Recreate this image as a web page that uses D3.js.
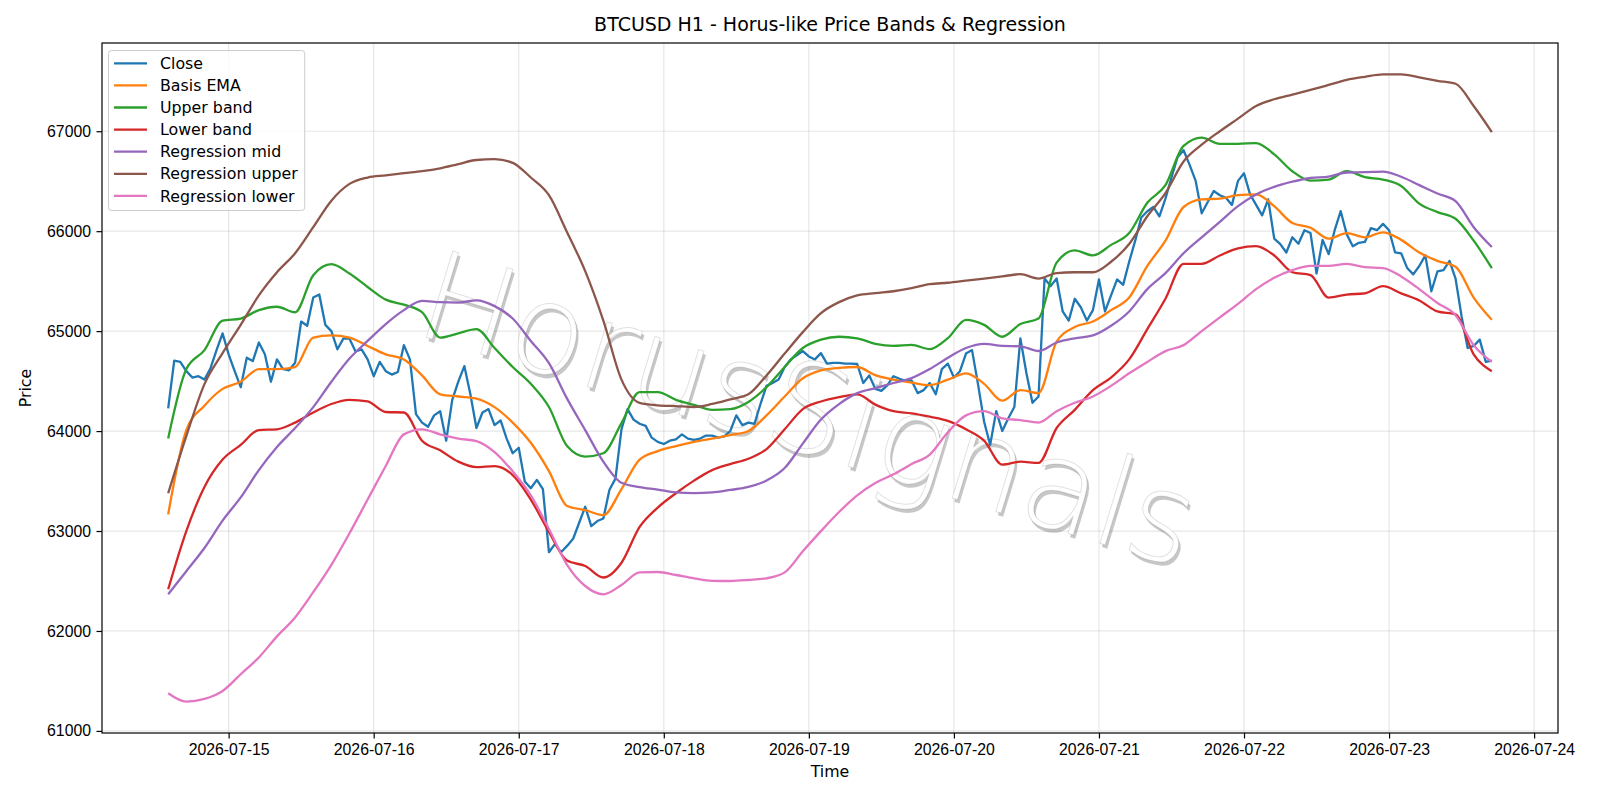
<!DOCTYPE html>
<html>
<head>
<meta charset="utf-8">
<title>BTCUSD H1 - Horus-like Price Bands & Regression</title>
<script src="https://d3js.org/d3.v7.min.js"></script>
<style>
  body { margin: 0; background: #fff; }
  svg { font-family: "DejaVu Sans", sans-serif; }
  .series { fill: none; stroke-width: 2.3; stroke-linejoin: round; }
  .grid line { stroke: #b0b0b0; stroke-opacity: 0.3; stroke-width: 1.2; }
  .axis text { font-size: 15.8px; fill: #000; }
  .axis line { stroke: #000; stroke-width: 1.2; }
  .axis path { display: none; }
</style>
</head>
<body>
<svg width="1600" height="800"></svg>
<script>
// hourly close, first bar 2026-07-14 14:00
var closePrices = [
  64228, 64704, 64692, 64600, 64536, 64549, 64515, 64629, 64810, 64978, 64768, 64599,
  64439, 64734, 64700, 64886, 64768, 64494, 64717, 64620, 64608, 64683, 65096, 65054,
  65336, 65366, 65063, 65000, 64818, 64928, 64924, 64797, 64818, 64717, 64549, 64692,
  64599, 64565, 64591, 64860, 64717, 64170, 64085, 64043, 64157, 64199, 63904, 64313,
  64494, 64650, 64368, 64031, 64186, 64220, 64060, 64106, 63925, 63778, 63833, 63496,
  63428, 63512, 63420, 62788, 62872, 62788, 62851, 62923, 63083, 63243, 63049, 63100,
  63125, 63411, 63524, 64018, 64220, 64115, 64073, 64052, 63934, 63892, 63871, 63904,
  63917, 63967, 63925, 63913, 63925, 63955, 63955, 63934, 63946, 64001, 64157, 64060,
  64085, 64073, 64271, 64452, 64481, 64515, 64641, 64717, 64759, 64801, 64747, 64717,
  64780, 64675, 64683, 64683, 64675, 64675, 64671, 64481, 64557, 64422, 64403, 64460,
  64549, 64523, 64503, 64507, 64380, 64410, 64481, 64368, 64620, 64675, 64536, 64599,
  64776, 64810, 64465, 64094, 63862, 64199, 64001, 64128, 64241, 64928, 64578, 64283,
  64346, 65526, 65450, 65526, 65197, 65105, 65324, 65239, 65105, 65210, 65517, 65197,
  65357, 65517, 65463, 65694, 65905, 66137, 66200, 66242, 66149, 66326, 66537, 66740,
  66810, 66663, 66503, 66179, 66292, 66402, 66360, 66335, 66263, 66503, 66579, 66368,
  66263, 66158, 66318, 65926, 65871, 65787, 65939, 65875, 66010, 65981, 65577, 65913,
  65770, 66010, 66200, 65968, 65850, 65884, 65892, 66031, 66010, 66073, 66010, 65787,
  65779, 65631, 65568, 65652, 65758, 65399, 65597, 65610, 65703, 65526, 65147, 64831,
  64852, 64915, 64692, 64704
];

// band and regression values read every 3 hours (hour 0, 3, ... 219)
var basisEma = [
  63167, 64010, 64254, 64422, 64494, 64620, 64620, 64641,
  64936, 64957, 64936, 64852, 64768, 64717, 64557, 64368,
  64346, 64325, 64240, 64085, 63883, 63600, 63251, 63210,
  63159, 63420, 63715, 63800, 63850, 63892, 63925, 63960,
  64001, 64157, 64346, 64528, 64608, 64633, 64641, 64560,
  64515, 64485, 64460, 64515, 64578, 64473, 64304, 64410,
  64380, 64894, 65041, 65096, 65210, 65336, 65652, 65905,
  66242, 66318, 66326, 66360, 66368, 66250, 66082, 66035,
  65926, 65981, 65939, 65989, 65913, 65787, 65703, 65644,
  65336, 65113
];

var upperBand = [
  63925, 64620, 64810, 65105, 65126, 65210, 65244, 65189,
  65560, 65670, 65576, 65442, 65315, 65265, 65189, 64936,
  64978, 65020, 64831, 64641, 64473, 64241, 63850, 63745,
  63778, 64080, 64389, 64390, 64313, 64262, 64212, 64220,
  64292, 64440, 64641, 64831, 64915, 64944, 64928, 64873,
  64852, 64862, 64820, 64930, 65113, 65063, 64944, 65071,
  65126, 65686, 65808, 65757, 65863, 65981, 66284, 66461,
  66853, 66937, 66874, 66874, 66882, 66768, 66600, 66505,
  66516, 66600, 66540, 66516, 66452, 66276, 66191, 66124,
  65905, 65631
];

var lowerBand = [
  62417, 62999, 63441, 63715, 63862, 64010, 64018, 64085,
  64186, 64271, 64313, 64296, 64191, 64186, 63904, 63807,
  63694, 63639, 63650, 63560, 63315, 62990, 62704, 62650,
  62535, 62683, 63041, 63235, 63378, 63504, 63609, 63670,
  63723, 63820, 64018, 64220, 64296, 64340, 64368, 64265,
  64199, 64178, 64144, 64102, 64018, 63904, 63664, 63694,
  63681, 64031, 64212, 64410, 64536, 64717, 65020, 65324,
  65673, 65673, 65757, 65829, 65850, 65757, 65589, 65560,
  65336, 65366, 65378, 65450, 65378, 65307, 65197, 65168,
  64768, 64599
];

var regMid = [
  62367, 62598, 62830, 63104, 63336, 63610, 63841, 64030,
  64240, 64494, 64726, 64902, 65071, 65210, 65303, 65290,
  65286, 65307, 65250, 65126, 64902, 64680, 64325, 64010,
  63694, 63483, 63440, 63415, 63386, 63380, 63386, 63411,
  63441, 63505, 63630, 63875, 64115, 64270, 64380, 64430,
  64481, 64530, 64620, 64734, 64831, 64873, 64852, 64848,
  64801, 64886, 64928, 64957, 65054, 65197, 65420, 65580,
  65779, 65939, 66094, 66250, 66368, 66444, 66495, 66532,
  66545, 66587, 66590, 66596, 66545, 66461, 66377, 66300,
  66040, 65842
];

var regUpper = [
  63378, 63950, 64470, 64780, 65063, 65357, 65589, 65779,
  66040, 66305, 66473, 66537, 66558, 66580, 66600, 66629,
  66671, 66712, 66720, 66684, 66537, 66360, 65989, 65600,
  65105, 64515, 64283, 64258, 64250, 64241, 64271, 64318,
  64368, 64557, 64776, 64990, 65180, 65290, 65357, 65380,
  65399, 65430, 65470, 65484, 65505, 65526, 65547, 65570,
  65526, 65581, 65589, 65589, 65694, 65871, 66149, 66380,
  66697, 66865, 67000, 67126, 67253, 67320, 67366, 67413,
  67463, 67514, 67545, 67569, 67569, 67539, 67505, 67475,
  67253, 66992
];

var regLower = [
  61377, 61293, 61320, 61400, 61567, 61735, 61946, 62135,
  62388, 62662, 62978, 63315, 63651, 63967, 64018, 63967,
  63925, 63900, 63790, 63597, 63357, 63020, 62662, 62450,
  62367, 62460, 62586, 62590, 62560, 62527, 62502, 62500,
  62510, 62527, 62586, 62797, 62999, 63190, 63357, 63480,
  63567, 63670, 63765, 63988, 64157, 64200, 64128, 64110,
  64085, 64199, 64283, 64346, 64452, 64578, 64692, 64800,
  64860, 65000, 65138, 65273, 65420, 65534, 65610, 65652,
  65652, 65673, 65640, 65631, 65547, 65420, 65281, 65160,
  64860, 64692
];

var yTicks = [61000, 62000, 63000, 64000, 65000, 66000, 67000];
var xTickDays = ["2026-07-15", "2026-07-16", "2026-07-17", "2026-07-18", "2026-07-19",
                 "2026-07-20", "2026-07-21", "2026-07-22", "2026-07-23", "2026-07-24"];

var margin = {top: 43, right: 42, bottom: 67, left: 102},
    width = 1600 - margin.left - margin.right,
    height = 800 - margin.top - margin.bottom;

var hourMs = 3600 * 1000;
var startTime = Date.UTC(2026, 6, 14, 14);
function timeAt(h) { return new Date(startTime + h * hourMs); }

var bandHours = d3.range(0, 220, 3);

var series = [
  {name: "Close",             color: "#1f77b4", values: closePrices, hours: closePrices.map(function(d, i) { return i; })},
  {name: "Basis EMA",         color: "#ff7f0e", values: basisEma,  hours: bandHours},
  {name: "Upper band",        color: "#2ca02c", values: upperBand, hours: bandHours},
  {name: "Lower band",        color: "#d62728", values: lowerBand, hours: bandHours},
  {name: "Regression mid",    color: "#9467bd", values: regMid,    hours: bandHours},
  {name: "Regression upper",  color: "#8c564b", values: regUpper,  hours: bandHours},
  {name: "Regression lower",  color: "#e377c2", values: regLower,  hours: bandHours}
];

// matplotlib-like 5% margins
var t0 = timeAt(0), t1 = timeAt(closePrices.length - 1);
var tPad = (t1 - t0) * 0.05;
var x = d3.scaleUtc()
    .domain([new Date(+t0 - tPad), new Date(+t1 + tPad)])
    .range([0, width]);

var allVals = d3.merge(series.map(function(s) { return s.values; }));
var vMin = d3.min(allVals), vMax = d3.max(allVals), vPad = (vMax - vMin) * 0.05;
var y = d3.scaleLinear()
    .domain([vMin - vPad, vMax + vPad])
    .range([height, 0]);

var svg = d3.select("svg");

svg.append("text")
    .attr("x", margin.left + width / 2)
    .attr("y", 31)
    .attr("text-anchor", "middle")
    .style("font-size", "19px")
    .text("BTCUSD H1 - Horus-like Price Bands & Regression");

var g = svg.append("g")
    .attr("transform", "translate(" + margin.left + "," + margin.top + ")");

var dayDates = xTickDays.map(function(s) { return d3.utcParse("%Y-%m-%d")(s); });

// grid
var grid = g.append("g").attr("class", "grid");
grid.selectAll(".gx").data(dayDates).enter().append("line")
    .attr("x1", function(d) { return x(d); })
    .attr("x2", function(d) { return x(d); })
    .attr("y1", 0).attr("y2", height);
grid.selectAll(".gy").data(yTicks).enter().append("line")
    .attr("x1", 0).attr("x2", width)
    .attr("y1", function(d) { return y(d); })
    .attr("y2", function(d) { return y(d); });

// watermark: shadow copy + light outlined copy
var wm = g.append("g")
    .attr("transform", "translate(" + (412 - margin.left) + "," + (333 - margin.top) + ") rotate(17)")
    .style("font-size", "124px")
    .style("font-weight", "200");
wm.append("text").attr("x", 3).attr("y", 3)
    .attr("fill", "#000").attr("fill-opacity", 0.22)
    .text("HorusSignals");
wm.append("text")
    .attr("fill", "#fff")
    .attr("stroke", "#000").attr("stroke-opacity", 0.12).attr("stroke-width", 1)
    .text("HorusSignals");

// lines
series.forEach(function(s) {
  var line = d3.line()
      .x(function(d, i) { return x(timeAt(s.hours[i])); })
      .y(function(d) { return y(d); })
      .curve(s.name === "Close" ? d3.curveLinear : d3.curveMonotoneX);
  g.append("path")
      .attr("class", "series")
      .attr("stroke", s.color)
      .attr("d", line(s.values));
});

// axes
g.append("g")
    .attr("class", "axis")
    .attr("transform", "translate(0," + height + ")")
    .call(d3.axisBottom(x).tickValues(dayDates)
      .tickFormat(d3.utcFormat("%Y-%m-%d")).tickSize(5.5).tickPadding(5.5));

g.append("g")
    .attr("class", "axis")
    .call(d3.axisLeft(y).tickValues(yTicks)
      .tickFormat(d3.format("d")).tickSize(5.5).tickPadding(5.5));

g.append("rect")
    .attr("width", width).attr("height", height)
    .attr("fill", "none").attr("stroke", "#000").attr("stroke-width", 1.2);

svg.append("text")
    .attr("x", margin.left + width / 2)
    .attr("y", 777)
    .attr("text-anchor", "middle")
    .style("font-size", "15.8px")
    .text("Time");

svg.append("text")
    .attr("transform", "translate(31," + (margin.top + height / 2) + ") rotate(-90)")
    .attr("text-anchor", "middle")
    .style("font-size", "15.8px")
    .text("Price");

// legend
var legend = svg.append("g");
var box = legend.append("rect")
    .attr("x", 108.5).attr("y", 50.5)
    .attr("rx", 3)
    .attr("fill", "#fff").attr("fill-opacity", 0.8)
    .attr("stroke", "#cccccc").attr("stroke-width", 1);

var maxW = 0;
series.forEach(function(s, i) {
  var cy = 63.3 + i * 22.1;
  legend.append("line")
      .attr("x1", 114).attr("x2", 147)
      .attr("y1", cy).attr("y2", cy)
      .attr("stroke", s.color).attr("stroke-width", 2.3);
  var t = legend.append("text")
      .attr("x", 160).attr("y", cy)
      .attr("dy", "0.36em")
      .style("font-size", "15.8px")
      .text(s.name);
  maxW = Math.max(maxW, t.node().getComputedTextLength());
});
box.attr("width", 160 + maxW + 7 - 108.5).attr("height", 160);
</script>
</body>
</html>
